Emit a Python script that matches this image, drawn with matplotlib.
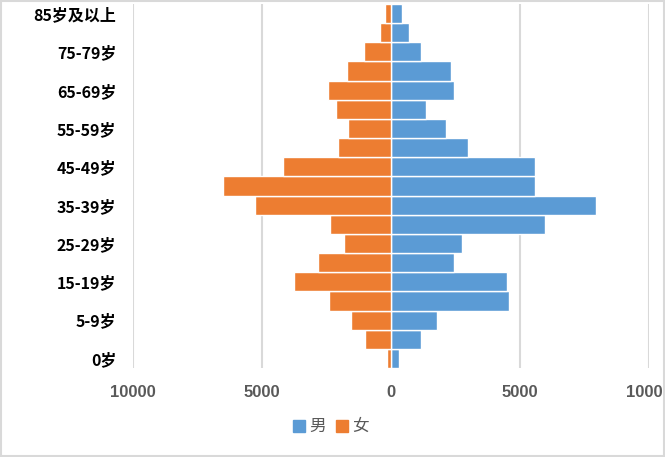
import numpy as np
import matplotlib
matplotlib.use("Agg")
import matplotlib.pyplot as plt
from matplotlib.patches import Rectangle
from matplotlib.lines import Line2D

plt.rcParams['font.family'] = ['Noto Sans CJK SC', 'DejaVu Sans']

# age groups, bottom to top
ages = ['0岁', '1-4岁', '5-9岁', '10-14岁', '15-19岁', '20-24岁', '25-29岁',
        '30-34岁', '35-39岁', '40-44岁', '45-49岁', '50-54岁', '55-59岁',
        '60-64岁', '65-69岁', '70-74岁', '75-79岁', '80-84岁', '85岁及以上']
male = [295, 1150, 1770, 4560, 4510, 2425, 2740, 5950, 7950, 5590, 5590,
        2970, 2115, 1375, 2425, 2310, 1150, 690, 420]
female = [165, 1015, 1560, 2410, 3755, 2840, 1820, 2360, 5260, 6530, 4180,
          2050, 1670, 2130, 2440, 1705, 1050, 443, 250]
xticks = [-10000, -5000, 0, 5000, 10000]
xlabels = ['10000', '5000', '0', '5000', '10000']

blue = '#5B9BD5'
orange = '#ED7D31'
grey = '#595959'

fig = plt.figure(figsize=(6.65, 4.57), dpi=100)
ax = fig.add_axes([0.2, 0.1947, 0.776, 0.7965])

y = np.arange(len(ages))
ax.barh(y, male, height=1.0, color=blue, edgecolor='white', linewidth=1.0, zorder=3)
ax.barh(y, [-v for v in female], height=1.0, color=orange, edgecolor='white', linewidth=1.0, zorder=3)

ax.set_xlim(-10000, 10000)
ax.set_ylim(-0.5, len(ages) - 0.5)
ax.set_xticks(xticks)
ax.set_xticklabels(xlabels, fontsize=12, color=grey, fontweight='bold',
                   family=['Liberation Sans', 'DejaVu Sans'])
ax.set_yticks(y[::2])
ax.set_yticklabels(ages[::2], fontsize=11.5, fontweight='bold', color='black')
ax.tick_params(axis='both', length=0)
ax.tick_params(axis='y', pad=12)
ax.tick_params(axis='x', pad=12)
for s in ax.spines.values():
    s.set_visible(False)
ax.grid(axis='x', color='#D9D9D9', linewidth=1.5, zorder=0)
ax.set_axisbelow(True)

handles = [Line2D([], [], marker='s', linestyle='', markersize=9, color=blue),
           Line2D([], [], marker='s', linestyle='', markersize=9, color=orange)]
fig.legend(handles, ['男', '女'], loc='center', bbox_to_anchor=(0.496, 0.066),
           ncol=2, frameon=False, fontsize=12, labelcolor=grey,
           handletextpad=0.1, columnspacing=0.5, handlelength=1.0)

fig.patches.append(Rectangle((0.002, 0.003), 0.996, 0.994, transform=fig.transFigure,
                             fill=False, edgecolor='#D9D9D9', linewidth=1.5))

fig.savefig('out.png', dpi=100)
